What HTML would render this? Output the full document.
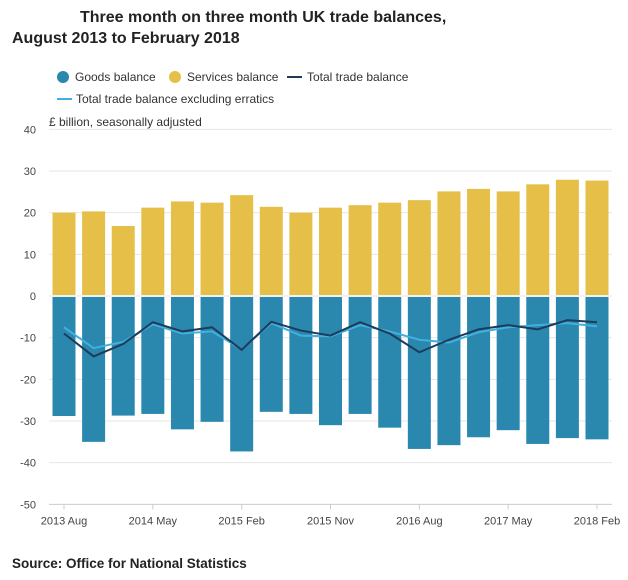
<!DOCTYPE html>
<html><head><meta charset="utf-8"><style>
body{margin:0;background:#fff;font-family:"Liberation Sans",sans-serif;}
</style></head><body>
<svg width="628" height="575" xmlns="http://www.w3.org/2000/svg">
<text x="80" y="22" font-size="16" font-weight="bold" fill="#222">Three month on three month UK trade balances,</text>
<text x="12" y="43" font-size="16" font-weight="bold" fill="#222">August 2013 to February 2018</text>
<g font-size="12" fill="#333">
<g><circle cx="63" cy="77" r="6" fill="#2a87ae"/><text x="75" y="81">Goods balance</text></g>
<g><circle cx="175" cy="77" r="6" fill="#e5bf48"/><text x="187" y="81">Services balance</text></g>
<g><line x1="287" y1="77" x2="302" y2="77" stroke="#1e3b5a" stroke-width="2"/><text x="307" y="81">Total trade balance</text></g>
<g><line x1="57" y1="99" x2="72" y2="99" stroke="#3fb0df" stroke-width="2"/><text x="76" y="103">Total trade balance excluding erratics</text></g>
</g>
<text x="49" y="126" font-size="12" fill="#333">£ billion, seasonally adjusted</text>
<g id="axes"></g>
<g id="bars"></g>
<g id="lines"></g>
<text x="12" y="568" font-size="13.5" font-weight="bold" fill="#222">Source: Office for National Statistics</text>
</svg>
<script>
const categories=["2013 Aug","2013 Nov","2014 Feb","2014 May","2014 Aug","2014 Nov","2015 Feb","2015 May","2015 Aug","2015 Nov","2016 Feb","2016 May","2016 Aug","2016 Nov","2017 Feb","2017 May","2017 Aug","2017 Nov","2018 Feb"];
const services=[20,20.3,16.8,21.2,22.7,22.4,24.2,21.4,20,21.2,21.8,22.4,23,25.1,25.7,25.1,26.8,27.9,27.7];
const goods=[-28.8,-35,-28.7,-28.3,-32,-30.2,-37.3,-27.8,-28.3,-31,-28.3,-31.6,-36.7,-35.8,-33.9,-32.2,-35.5,-34.1,-34.4];
const total=[-9,-14.5,-11.5,-6.3,-8.5,-7.5,-12.9,-6.2,-8.3,-9.5,-6.3,-9,-13.5,-10.5,-8,-7,-8,-5.8,-6.3];
const exclErratics=[-7.5,-12.5,-11,-6.8,-9,-8.5,-12.8,-6.5,-9.5,-9.7,-7,-8.5,-10.5,-11.2,-8.7,-7.5,-7,-6.5,-7.3];
const yTicks=[40,30,20,10,0,-10,-20,-30,-40,-50];
const xTickLabels=["2013 Aug","2014 May","2015 Feb","2015 Nov","2016 Aug","2017 May","2018 Feb"];

const NS="http://www.w3.org/2000/svg";
const y=v=>296-(v*41.67/10);
const x=i=>64+i*(597-64)/(categories.length-1);
const bw=23;
function mk(tag,attrs,parent){const e=document.createElementNS(NS,tag);for(const k in attrs)e.setAttribute(k,attrs[k]);parent.appendChild(e);return e;}
const axes=document.getElementById('axes'),bars=document.getElementById('bars'),lines=document.getElementById('lines');
yTicks.forEach(t=>{
  if(t!==-50){const g=mk('line',{x1:49,x2:612,y1:y(t),y2:y(t),stroke:'#e6e6e6','stroke-width':1},axes);
  
  }
  const tx=mk('text',{x:36,y:y(t)+4,'font-size':11,fill:'#444','text-anchor':'end'},axes);
  tx.textContent=t;
  
  
});
const base=mk('line',{x1:49,x2:612,y1:y(-50),y2:y(-50),stroke:'#ccc'},axes);


xTickLabels.forEach(l=>{
  const i=categories.indexOf(l);
  const tk=mk('line',{x1:x(i),x2:x(i),y1:y(-50),y2:y(-50)+5,stroke:'#ccc'},axes);
  
  
  const tx=mk('text',{x:x(i),y:y(-50)+20,'font-size':11,fill:'#444','text-anchor':'middle'},axes);
  tx.textContent=l;
  
  
});
categories.forEach((c,i)=>{
  const s=mk('rect',{x:x(i)-bw/2,y:y(services[i]),width:bw,height:y(0)-y(services[i])-1,fill:'#e5bf48'},bars);
  
  
  const g=mk('rect',{x:x(i)-bw/2,y:y(0)+1,width:bw,height:y(goods[i])-y(0)-1,fill:'#2a87ae'},bars);
  
  
});
const p1=mk('polyline',{points:exclErratics.map((v,i)=>x(i)+','+y(v)).join(' '),fill:'none',stroke:'#3fb0df','stroke-width':2},lines);


const p2=mk('polyline',{points:total.map((v,i)=>x(i)+','+y(v)).join(' '),fill:'none',stroke:'#1e3b5a','stroke-width':2},lines);


</script>
</body></html>
